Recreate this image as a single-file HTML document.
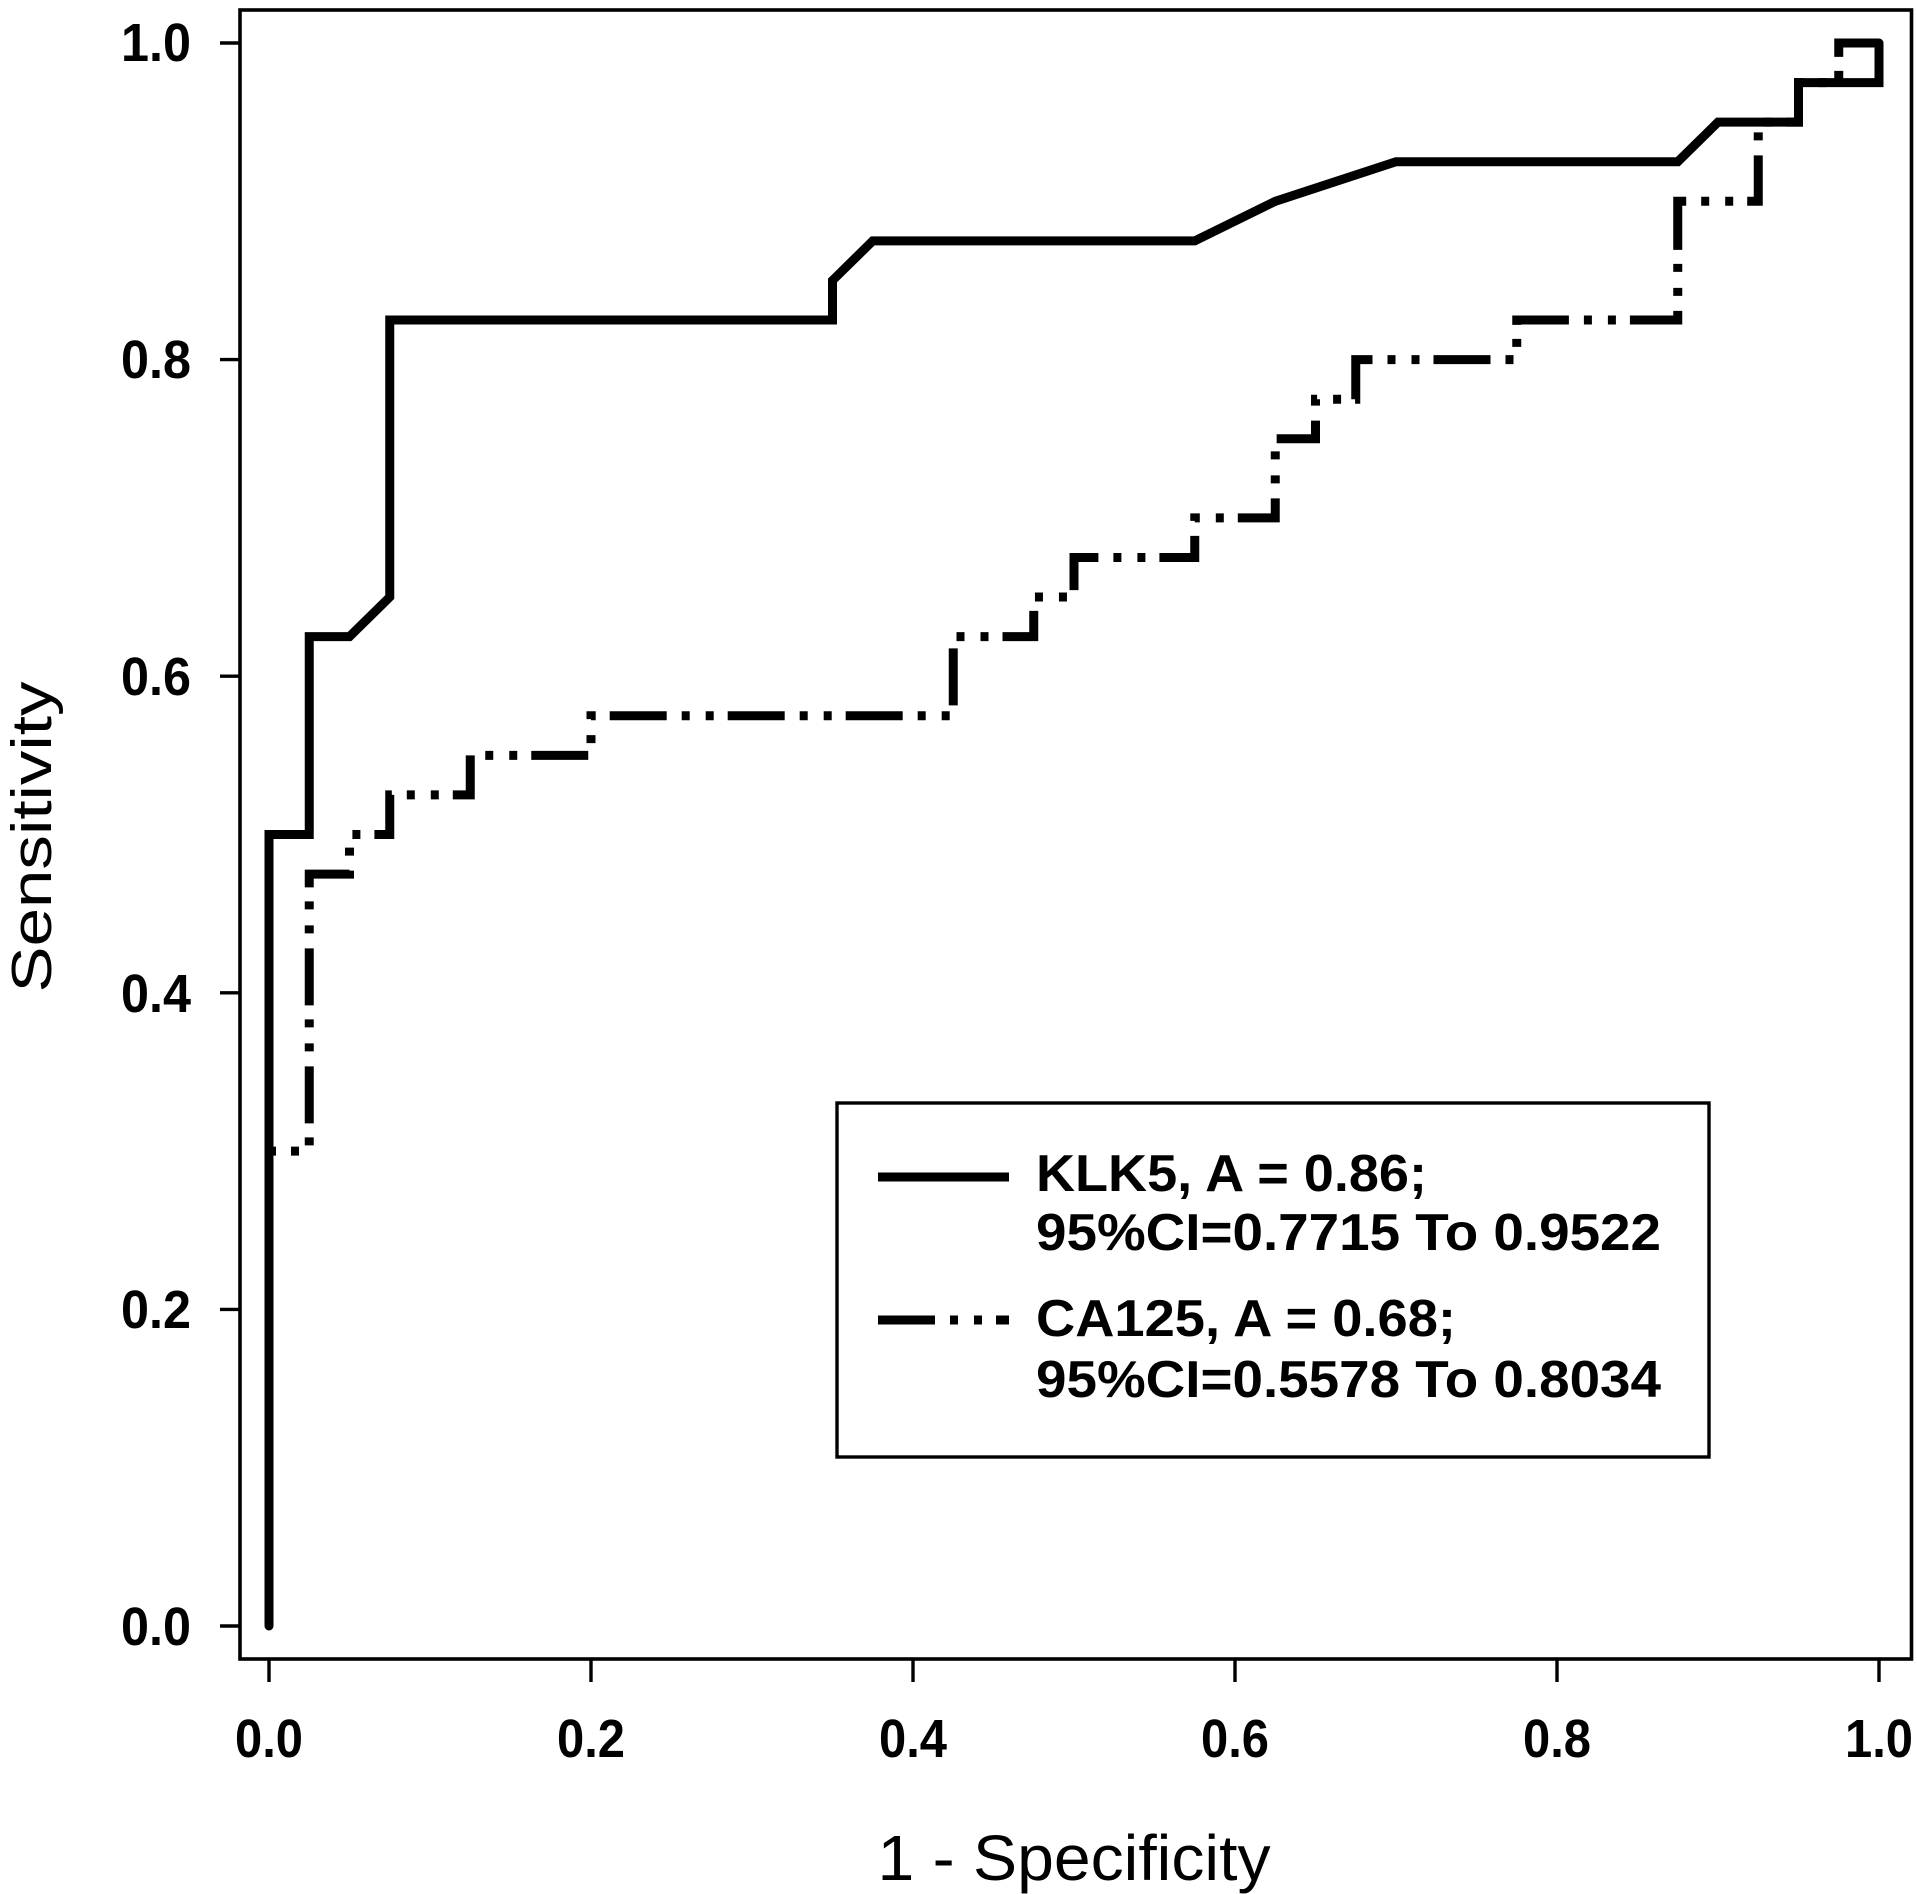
<!DOCTYPE html>
<html>
<head>
<meta charset="utf-8">
<style>
  html, body { margin: 0; padding: 0; background: #ffffff; }
  body { width: 1917px; height: 1894px; overflow: hidden; }
  svg { display: block; }
  text { font-family: "Liberation Sans", Arial, sans-serif; fill: #000; }
  .tick { font-weight: bold; font-size: 54px; }
  .leg { font-weight: bold; font-size: 52px; }
  .ax { font-size: 64px; }
</style>
</head>
<body>
<svg width="1917" height="1894" viewBox="0 0 1917 1894" xmlns="http://www.w3.org/2000/svg">
  <rect x="0" y="0" width="1917" height="1894" fill="#ffffff"/>

  <!-- plot frame -->
  <rect x="240" y="10" width="1671.5" height="1649" fill="none" stroke="#000" stroke-width="3.6"/>

  <!-- y ticks -->
  <g stroke="#000" stroke-width="3.4">
    <line x1="220" y1="1626" x2="240" y2="1626"/>
    <line x1="220" y1="1309.4" x2="240" y2="1309.4"/>
    <line x1="220" y1="992.8" x2="240" y2="992.8"/>
    <line x1="220" y1="676.2" x2="240" y2="676.2"/>
    <line x1="220" y1="359.6" x2="240" y2="359.6"/>
    <line x1="220" y1="43" x2="240" y2="43"/>
  </g>
  <!-- x ticks -->
  <g stroke="#000" stroke-width="3.4">
    <line x1="269" y1="1659" x2="269" y2="1682"/>
    <line x1="591" y1="1659" x2="591" y2="1682"/>
    <line x1="913" y1="1659" x2="913" y2="1682"/>
    <line x1="1235" y1="1659" x2="1235" y2="1682"/>
    <line x1="1557" y1="1659" x2="1557" y2="1682"/>
    <line x1="1879" y1="1659" x2="1879" y2="1682"/>
  </g>

  <!-- y tick labels -->
  <g class="tick" text-anchor="end">
    <text x="191" y="1645" textLength="70" lengthAdjust="spacingAndGlyphs">0.0</text>
    <text x="191" y="1328" textLength="70" lengthAdjust="spacingAndGlyphs">0.2</text>
    <text x="191" y="1012" textLength="70" lengthAdjust="spacingAndGlyphs">0.4</text>
    <text x="191" y="695" textLength="70" lengthAdjust="spacingAndGlyphs">0.6</text>
    <text x="191" y="378" textLength="70" lengthAdjust="spacingAndGlyphs">0.8</text>
    <text x="191" y="61" textLength="70" lengthAdjust="spacingAndGlyphs">1.0</text>
  </g>

  <!-- x tick labels -->
  <g class="tick" text-anchor="middle">
    <text x="269" y="1757" textLength="68" lengthAdjust="spacingAndGlyphs">0.0</text>
    <text x="591" y="1757" textLength="68" lengthAdjust="spacingAndGlyphs">0.2</text>
    <text x="913" y="1757" textLength="68" lengthAdjust="spacingAndGlyphs">0.4</text>
    <text x="1235" y="1757" textLength="68" lengthAdjust="spacingAndGlyphs">0.6</text>
    <text x="1557" y="1757" textLength="68" lengthAdjust="spacingAndGlyphs">0.8</text>
    <text x="1879" y="1757" textLength="68" lengthAdjust="spacingAndGlyphs">1.0</text>
  </g>

  <!-- axis titles -->
  <text class="ax" x="1074" y="1880" text-anchor="middle" textLength="393" lengthAdjust="spacingAndGlyphs">1 - Specificity</text>
  <text class="ax" style="font-size:57px" transform="translate(51,837) rotate(-90)" x="0" y="0" text-anchor="middle" textLength="311" lengthAdjust="spacingAndGlyphs">Sensitivity</text>

  <!-- CA125 (dash-dot-dot) -->
  <polyline fill="none" stroke="#000" stroke-width="9" stroke-linejoin="miter" stroke-linecap="butt"
    stroke-dasharray="57 15 8 16 8 14" stroke-dashoffset="50"
    points="269,1151.1 309.25,1151.1 309.25,874.1 349.5,874.1 349.5,834.5 389.75,834.5 389.75,794.9 470.25,794.9 470.25,755.35 591,755.35 591,715.8 953.25,715.8 953.25,636.6 1033.75,636.6 1033.75,597.05 1074,597.05 1074,557.5 1194.75,557.5 1194.75,517.9 1275.25,517.9 1275.25,438.75 1315.5,438.75 1315.5,399.2 1355.75,399.2 1355.75,359.6 1516.75,359.6 1516.75,320 1677.75,320 1677.75,201.3 1758.25,201.3 1758.25,122.15 1798.5,122.15 1798.5,82.6 1838.75,82.6 1838.75,43 1879,43"/>

  <!-- KLK5 (solid) -->
  <polyline fill="none" stroke="#000" stroke-width="9" stroke-linejoin="miter" stroke-linecap="round"
    points="269,1626 269,834.5 309.25,834.5 309.25,636.6 349.5,636.6 389.75,597.05 389.75,320 832.5,320 832.5,280.45 872.75,240.9 1194.75,240.9 1275.25,201.3 1396,161.75 1677.75,161.75 1718,122.15 1798.5,122.15 1798.5,82.6 1879,82.6 1879,43"/>

  <!-- legend -->
  <rect x="837" y="1103" width="872" height="354" fill="#ffffff" stroke="#000" stroke-width="3.4"/>
  <line x1="878" y1="1177" x2="1009" y2="1177" stroke="#000" stroke-width="9"/>
  <line x1="878" y1="1320" x2="1009" y2="1320" stroke="#000" stroke-width="9"
        stroke-dasharray="57 15 8 16 8 14" stroke-dashoffset="0"/>
  <g class="leg">
    <text x="1036" y="1191" textLength="391" lengthAdjust="spacingAndGlyphs">KLK5, A = 0.86;</text>
    <text x="1036" y="1250" textLength="625" lengthAdjust="spacingAndGlyphs">95%CI=0.7715 To 0.9522</text>
    <text x="1036" y="1336" textLength="420" lengthAdjust="spacingAndGlyphs">CA125, A = 0.68;</text>
    <text x="1036" y="1397" textLength="625" lengthAdjust="spacingAndGlyphs">95%CI=0.5578 To 0.8034</text>
  </g>
</svg>
</body>
</html>
